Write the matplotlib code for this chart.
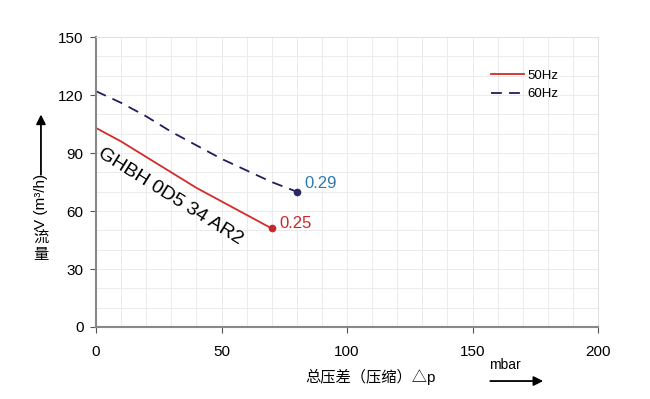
import matplotlib
matplotlib.use("Agg")
import matplotlib.pyplot as plt
from matplotlib.ticker import MultipleLocator

plt.rcParams['font.family'] = ['Liberation Sans', 'Noto Sans CJK SC', 'DejaVu Sans']

# 数据
p_50 = [0, 10, 20, 30, 40, 50, 60, 70]
v_50 = [103, 96, 88, 80, 72, 65, 58, 51]
p_60 = [0, 10, 20, 30, 40, 50, 60, 70, 80]
v_60 = [122, 116, 109, 101, 94, 87, 81, 75, 70]
label_50 = "0.25"
label_60 = "0.29"
model = "GHBH 0D5 34 AR2"

fig = plt.figure(figsize=(6.5, 3.99), dpi=100)
ax = fig.add_axes([0.1477, 0.1805, 0.7723, 0.7265])

ax.plot(p_50, v_50, color='#d42a2a', lw=1.3, label='50Hz')
ax.plot(p_60, v_60, color='#1f1f5e', lw=1.3, ls=(0, (6, 4)), label='60Hz')
ax.plot(p_50[-1], v_50[-1], 'o', color='#c8282a', ms=4.5)
ax.plot(p_60[-1], v_60[-1], 'o', color='#2a2a60', ms=4.5)
ax.text(p_50[-1] + 3, v_50[-1] + 2.5, label_50, color='#c8282a', fontsize=12, va='center')
ax.text(p_60[-1] + 3, v_60[-1] + 4, label_60, color='#2a7ab8', fontsize=12, va='center')
ax.text(3, 94, model, rotation=-32, fontsize=14, ha='left', va='top',
        rotation_mode='anchor')

ax.set_xlim(0, 200)
ax.set_ylim(0, 150)
ax.xaxis.set_major_locator(MultipleLocator(50))
ax.yaxis.set_major_locator(MultipleLocator(30))
ax.xaxis.set_minor_locator(MultipleLocator(10))
ax.yaxis.set_minor_locator(MultipleLocator(10))
ax.grid(which='both', color='#ebebeb', lw=0.7)
ax.set_axisbelow(True)
ax.tick_params(which='minor', length=0)
ax.tick_params(which='major', length=4, color='#555555', labelsize=11, direction='out')
ax.tick_params(axis='x', pad=9)
ax.tick_params(axis='y', pad=5)
for s in ['top', 'right']:
    ax.spines[s].set_color('#e2e2e2')
for s in ['left', 'bottom']:
    ax.spines[s].set_color('#888888')
    ax.spines[s].set_linewidth(1.5)

ax.legend(loc='upper right', bbox_to_anchor=(0.945, 0.93), frameon=False, fontsize=9.5,
          handlelength=2.5, handletextpad=0.3, labelspacing=0.5)

# 轴标签和箭头
fig.text(0.063, 0.495, "V (m³/h)", rotation=90, fontsize=11, ha='center', va='center')
fig.text(0.063, 0.405, "流", fontsize=11, ha='center', va='center')
fig.text(0.063, 0.362, "量", fontsize=11, ha='center', va='center')
ax.annotate('', xy=(0.063, 0.72), xytext=(0.063, 0.555), xycoords='figure fraction',
            arrowprops=dict(arrowstyle='-|>', color='black', lw=1.3, mutation_scale=14))
fig.text(0.57, 0.055, "总压差（压缩）△p", fontsize=11, ha='center', va='center')
fig.text(0.752, 0.067, "mbar", fontsize=10, ha='left', va='bottom')
ax.annotate('', xy=(0.84, 0.045), xytext=(0.75, 0.045), xycoords='figure fraction',
            arrowprops=dict(arrowstyle='-|>', color='black', lw=1.3, mutation_scale=14))

fig.savefig('out.png', dpi=100)
